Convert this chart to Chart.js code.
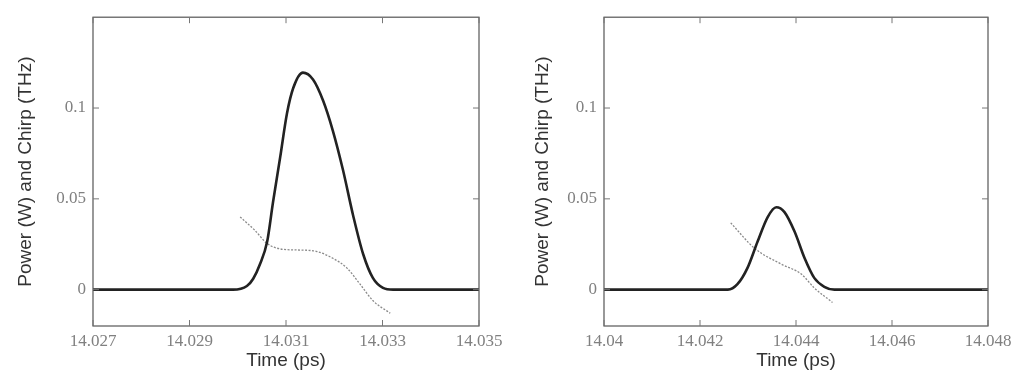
<!DOCTYPE html>
<html>
<head>
<meta charset="utf-8">
<script src="https://cdn.jsdelivr.net/npm/chart.js@4.4.1/dist/chart.umd.min.js"></script>
<style>
  body { margin: 0; background: #fff; }
  #wrap { position: relative; width: 1035px; height: 378px; }
  canvas { position: absolute; top: 0; }
</style>
</head>
<body>
<div id="wrap">
  <canvas id="leftChart" width="517" height="378" style="left:0"></canvas>
  <canvas id="rightChart" width="518" height="378" style="left:517px"></canvas>
</div>
<script>
// left panel (first pulse)
const leftTime = [14.027, 14.0299, 14.03019, 14.03032, 14.03046, 14.03061, 14.03073, 14.03088, 14.03102, 14.03115, 14.03135, 14.03156, 14.03177, 14.03197, 14.03218, 14.03239, 14.0326, 14.0328, 14.03301, 14.03322, 14.035];
const leftPower = [0, 0, 0.002, 0.006, 0.014, 0.0265, 0.048, 0.073, 0.097, 0.111, 0.1195, 0.1157, 0.104, 0.0876, 0.066, 0.041, 0.0195, 0.0065, 0.001, 0, 0];
const leftChirpTime = [14.03005, 14.03035, 14.03061, 14.03094, 14.0313, 14.03164, 14.03197, 14.03226, 14.03253, 14.0328, 14.03316];
const leftChirp = [0.040, 0.0328, 0.0254, 0.0222, 0.0218, 0.021, 0.0173, 0.012, 0.0032, -0.006, -0.013];
const leftTicks = [14.027, 14.029, 14.031, 14.033, 14.035];
const leftTickLabels = ['14.027', '14.029', '14.031', '14.033', '14.035'];

// right panel (second pulse)
const rightTime = [14.04, 14.04258, 14.04278, 14.04299, 14.0432, 14.04341, 14.04359, 14.04376, 14.04397, 14.04418, 14.04438, 14.04459, 14.0448, 14.048];
const rightPower = [0, 0, 0.003, 0.012, 0.0265, 0.040, 0.0454, 0.0427, 0.032, 0.0173, 0.0065, 0.0016, 0, 0];
const rightChirpTime = [14.04264, 14.04314, 14.0437, 14.04411, 14.04438, 14.04476];
const rightChirp = [0.0368, 0.0227, 0.014, 0.0086, 0.001, -0.007];
const rightTicks = [14.04, 14.042, 14.044, 14.046, 14.048];
const rightTickLabels = ['14.04', '14.042', '14.044', '14.046', '14.048'];

const yTicks = [0, 0.05, 0.1];
const yTickLabels = ['0', '0.05', '0.1'];

// frame + inward tick marks on all four sides
const framePlugin = {
    id: 'frame',
    afterDraw(chart) {
        const ctx = chart.ctx;
        const a = chart.chartArea;
        const xs = chart.scales.x, ys = chart.scales.y;
        ctx.save();
        ctx.strokeStyle = '#555';
        ctx.lineWidth = 1.2;
        ctx.strokeRect(a.left, a.top, a.right - a.left, a.bottom - a.top);
        ctx.strokeStyle = '#777';
        ctx.lineWidth = 1;
        ctx.beginPath();
        xs.ticks.forEach(t => {
            const px = xs.getPixelForValue(t.value);
            ctx.moveTo(px, a.bottom); ctx.lineTo(px, a.bottom - 6);
            ctx.moveTo(px, a.top); ctx.lineTo(px, a.top + 6);
        });
        ys.ticks.forEach(t => {
            const py = ys.getPixelForValue(t.value);
            ctx.moveTo(a.left, py); ctx.lineTo(a.left + 6, py);
            ctx.moveTo(a.right, py); ctx.lineTo(a.right - 6, py);
        });
        ctx.stroke();
        ctx.restore();
    }
};

function makeChart(id, time, power, chirpTime, chirp, ticks, tickLabels, yWidth, padRight) {
    const ctx = document.getElementById(id).getContext('2d');
    return new Chart(ctx, {
        type: 'line',
        data: {
            datasets: [{
                data: time.map((t, i) => ({ x: t, y: power[i] })),
                borderColor: '#222',
                borderWidth: 2.6,
                pointRadius: 0,
                cubicInterpolationMode: 'monotone',
                fill: false
            }, {
                data: chirpTime.map((t, i) => ({ x: t, y: chirp[i] })),
                borderColor: '#8a8a8a',
                borderWidth: 1.3,
                borderDash: [2, 1.5],
                pointRadius: 0,
                cubicInterpolationMode: 'monotone',
                fill: false
            }]
        },
        options: {
            responsive: false,
            animation: false,
            layout: { padding: { top: 13, right: padRight, left: 0, bottom: 0 } },
            plugins: { legend: { display: false }, tooltip: { enabled: false } },
            scales: {
                x: {
                    type: 'linear',
                    min: ticks[0],
                    max: ticks[ticks.length - 1],
                    grid: { display: false, drawTicks: false },
                    border: { display: false },
                    afterBuildTicks: scale => { scale.ticks = ticks.map(v => ({ value: v })); },
                    afterFit: scale => { scale.height = 52; },
                    ticks: {
                        autoSkip: false,
                        maxRotation: 0,
                        padding: 5,
                        color: '#808080',
                        font: { family: 'Liberation Serif', size: 17 },
                        callback: (v, i) => tickLabels[i]
                    },
                    title: {
                        display: true,
                        text: 'Time (ps)',
                        color: '#333',
                        font: { family: 'Liberation Sans', size: 19 },
                        padding: { top: 0, bottom: 6 }
                    }
                },
                y: {
                    min: -0.02,
                    max: 0.15,
                    grid: { display: false, drawTicks: false },
                    border: { display: false },
                    afterBuildTicks: scale => { scale.ticks = yTicks.map(v => ({ value: v })); },
                    afterFit: scale => { scale.width = yWidth; },
                    ticks: {
                        padding: 7,
                        color: '#808080',
                        font: { family: 'Liberation Serif', size: 17 },
                        callback: (v, i) => yTickLabels[i]
                    },
                    title: {
                        display: true,
                        text: 'Power (W) and Chirp (THz)',
                        color: '#333',
                        font: { family: 'Liberation Sans', size: 19 },
                        padding: { top: 14, bottom: 0 }
                    }
                }
            }
        },
        plugins: [framePlugin]
    });
}

makeChart('leftChart', leftTime, leftPower, leftChirpTime, leftChirp, leftTicks, leftTickLabels, 93, 38);
makeChart('rightChart', rightTime, rightPower, rightChirpTime, rightChirp, rightTicks, rightTickLabels, 87, 47);
</script>
</body>
</html>
